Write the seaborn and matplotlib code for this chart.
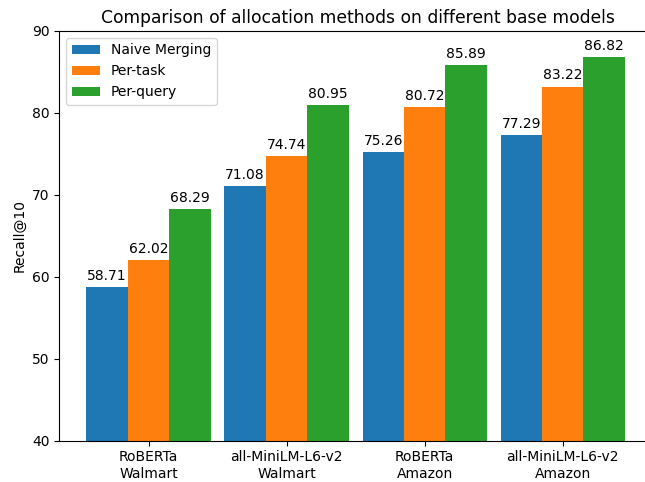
import pandas as pd
import seaborn as sns
import matplotlib.pyplot as plt

# data
models = ['RoBERTa\nWalmart', 'all-MiniLM-L6-v2\nWalmart',
          'RoBERTa\nAmazon', 'all-MiniLM-L6-v2\nAmazon']
methods = ['Naive Merging', 'Per-task', 'Per-query']
naive = [58.71, 71.08, 75.26, 77.29]
per_task = [62.02, 74.74, 80.72, 83.22]
per_query = [68.29, 80.95, 85.89, 86.82]

df = pd.DataFrame({
    'model': models * 3,
    'method': [m for m in methods for _ in models],
    'recall': naive + per_task + per_query,
})

fig = plt.figure(figsize=(6.45, 4.82), dpi=100)
# the reference is cropped on the right, so the axes run past the figure edge
ax = fig.add_axes([0.0922, 0.0857, 0.93, 0.85])
sns.barplot(data=df, x='model', y='recall', hue='method',
            palette=['#1f77b4', '#ff7f0e', '#2ca02c'],
            width=0.9, gap=0, saturation=1, errorbar=None, ax=ax)

# value labels on top of bars
for cont in ax.containers:
    ax.bar_label(cont, fmt='%.2f', padding=3)

ax.set_ylim(40, 90)
ax.set_xlim(-0.645, 3.7)
ax.spines['right'].set_visible(False)
ax.set_xlabel('')
ax.set_ylabel('Recall@10')
ax.set_title('Comparison of allocation methods on different base models',
             fontsize=12.3, x=0.497)
ax.legend(title=None, loc='upper left')

plt.savefig('out.png', dpi=100)
